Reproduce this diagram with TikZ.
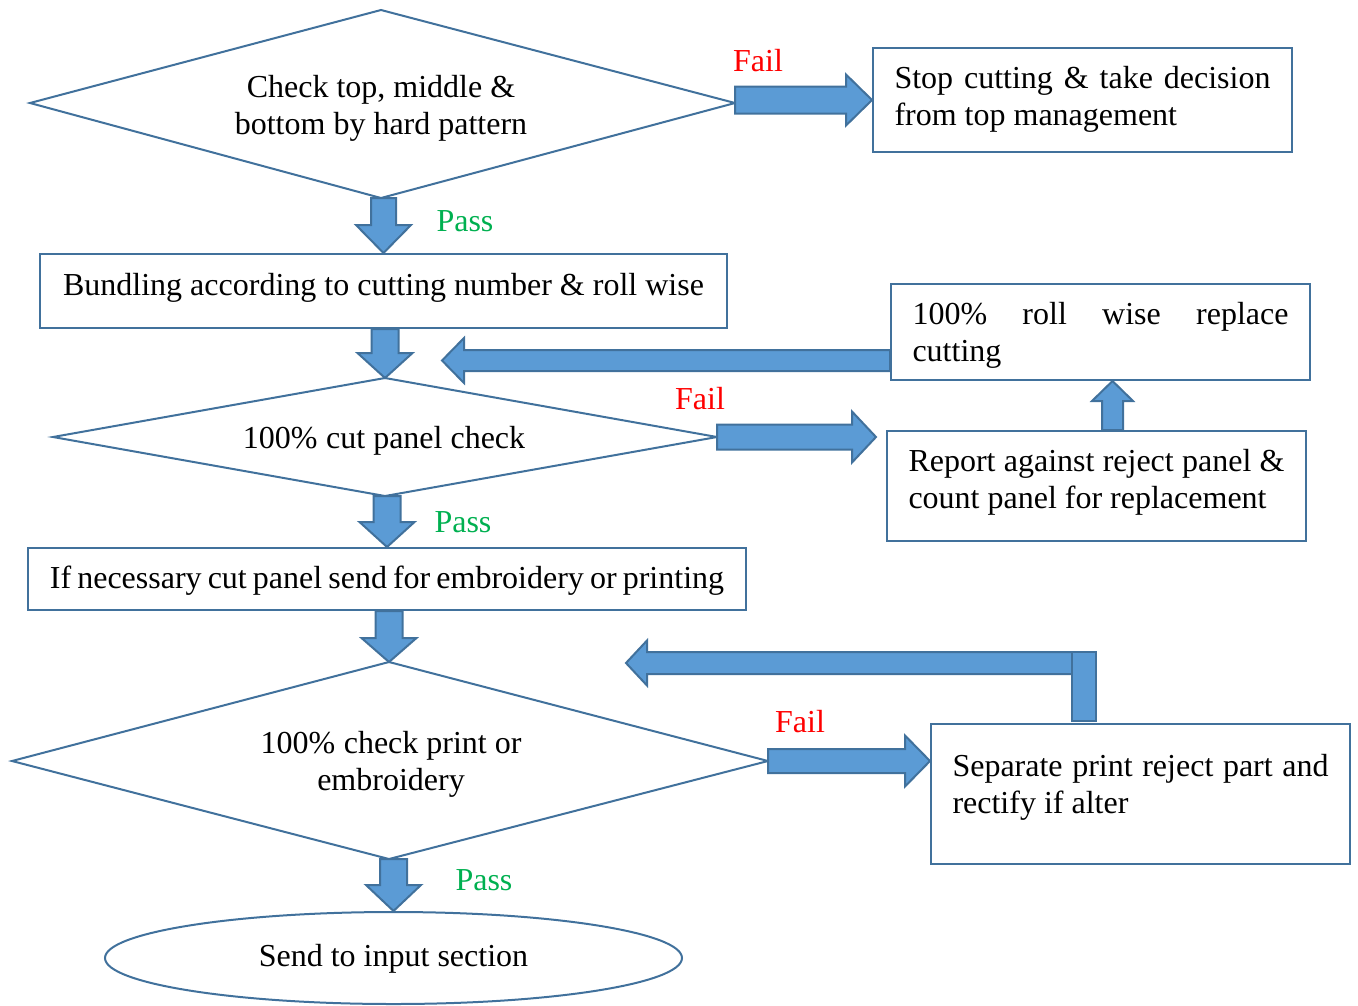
\documentclass[tikz,border=0pt]{standalone}
\usepackage{fontspec}
\setmainfont{Liberation Serif}
\usetikzlibrary{calc,shapes.geometric}

\definecolor{edgeblue}{HTML}{41719C}
\definecolor{fillblue}{HTML}{5B9BD5}
\definecolor{failred}{HTML}{FF0000}
\definecolor{passgreen}{HTML}{00B050}

\tikzset{
  txt/.style={font=\fontsize{32}{36.8}\selectfont, inner sep=0pt},
  outline/.style={draw=edgeblue, line width=2pt, line join=miter},
  blk/.style={draw=edgeblue, fill=fillblue, line width=2pt, line join=miter},
  boxnode/.style={outline, rectangle, inner sep=0pt, minimum width=419pt},
  failtxt/.style={txt, text=failred},
  passtxt/.style={txt, text=passgreen},
}

% justified paragraph, no hyphenation
\newcommand{\jpar}[1]{\parbox{376pt}{\hyphenpenalty=10000\exhyphenpenalty=10000\emergencystretch=3em #1}}

% block arrow: from, to, shaft half width, head half width, head length
\newcommand{\barrow}[5]{%
  \coordinate (ba-s) at (#1);
  \coordinate (ba-e) at (#2);
  \coordinate (ba-n) at ($(ba-e)!#5!(ba-s)$);
  \draw[blk] ($(ba-s)!#3!90:(ba-e)$) -- ($(ba-n)!#3!90:(ba-e)$)
    -- ($(ba-n)!#4!90:(ba-e)$) -- (ba-e) -- ($(ba-n)!#4!-90:(ba-e)$)
    -- ($(ba-n)!#3!-90:(ba-e)$) -- ($(ba-s)!#3!-90:(ba-e)$) -- cycle;
}

\begin{document}
\begin{tikzpicture}[x=1pt, y=-1pt, every node/.style={txt}]
\useasboundingbox (0,0) rectangle (1358,1005);

% ---- first decision
\coordinate (d1w) at (30,103);
\coordinate (d1n) at (381,10);
\coordinate (d1e) at (735,103);
\coordinate (d1s) at (381,198);
\draw[outline] (d1w) -- (d1n) -- (d1e) -- (d1s) -- cycle;
\node[align=center] (d1t) at (381,108) {Check top, middle \&\\bottom by hard pattern};

\node[boxnode, minimum height=104pt] (stop) at (1082.5,100) {};
\node (stop-t) at (1082.5,99.5) {\jpar{Stop cutting \& take decision from top management}};

% ---- bundling
\node[boxnode, minimum width=687pt, minimum height=74pt] (bund) at (383.5,291) {};
\node (bund-t) at (383.5,287.5) {Bundling according to cutting number \& roll wise};

% ---- second decision
\coordinate (d2w) at (53,437);
\coordinate (d2n) at (385,378);
\coordinate (d2e) at (717,437);
\coordinate (d2s) at (385,496);
\draw[outline] (d2w) -- (d2n) -- (d2e) -- (d2s) -- cycle;
\node (d2t) at (384,441) {100\%\hspace{0.27em}cut panel check};

\node[boxnode, minimum height=96pt] (roll) at (1100.5,332) {};
\node (roll-t) at (1100.5,335.5) {\jpar{100\% roll wise replace cutting}};

\node[boxnode, minimum height=110pt] (rep) at (1096.5,486) {};
\node (rep-t) at (1096.5,482.5) {\jpar{Report against reject panel \& count panel for replacement}};

% ---- embroidery / printing
\node[boxnode, minimum width=718pt, minimum height=62pt] (emb) at (387,579) {};
\node (emb-t) at (387,581) {\spaceskip=0.19em\relax If necessary cut panel send for embroidery or printing};

% ---- third decision
\coordinate (d3w) at (12,761);
\coordinate (d3n) at (389,662);
\coordinate (d3e) at (768,761);
\coordinate (d3s) at (389,859);
\draw[outline] (d3w) -- (d3n) -- (d3e) -- (d3s) -- cycle;
\node[align=center] (d3t) at (391,764) {100\%\hspace{0.27em}check print or\\embroidery};

\node[boxnode, minimum height=140pt] (sep) at (1140.5,794) {};
\node (sep-t) at (1140.5,787.5) {\jpar{Separate print reject part and rectify if alter}};

% ---- end
\node[ellipse, outline, minimum width=577pt, minimum height=92pt, inner sep=0pt] (input) at (393.5,958) {};
\node (input-t) at (393.5,959) {Send to input section};

% ---- connectors
\barrow{d1e |- stop.west}{stop.west}{13.5pt}{25.5pt}{26pt}
\barrow{bund.north |- d1s}{bund.north}{12.5pt}{27.5pt}{28pt}
\barrow{d2n |- bund.south}{d2n}{13.5pt}{27.5pt}{25pt}
\barrow{d2e}{$(rep.west |- d2e)+(-10,0)$}{12.5pt}{25.5pt}{24pt}

\coordinate (upfoot) at ($(rep.north)+(16,0)$);
\barrow{upfoot}{upfoot |- roll.south}{10.5pt}{20.5pt}{20pt}

\coordinate (backfoot) at ($(roll.south west)+(0,-20.5)$);
\coordinate (backtip) at ($(backfoot)+(-448,0)$);
\barrow{backfoot}{backtip}{10.5pt}{22.5pt}{22pt}

\barrow{emb.north |- d2s}{emb.north}{13.5pt}{27.5pt}{25pt}
\barrow{d3n |- emb.south}{d3n}{13.5pt}{27.5pt}{24pt}
\barrow{d3e}{d3e -| sep.west}{12pt}{25.5pt}{25pt}

\coordinate (riser) at ($(sep.north west)+(154,0)$);
\coordinate (corner) at ($(riser)+(0,-60)$);
\coordinate (retip) at ($(corner)+(-458,0)$);
\barrow{corner}{retip}{11pt}{22.5pt}{21pt}
\draw[blk] ($(riser)+(-12,-2)$) rectangle ($(riser)+(12,-71)$);

\barrow{d3s -| input.north}{input.north}{13.5pt}{27.5pt}{26pt}

% ---- outcome labels
\node[failtxt] (f1) at (758,61) {Fail};
\node[passtxt] (p1) at (465,221) {Pass};
\node[failtxt] (f2) at (700,399) {Fail};
\node[passtxt] (p2) at (463,522) {Pass};
\node[failtxt] (f3) at (800,722) {Fail};
\node[passtxt] (p3) at (484,880) {Pass};
\end{tikzpicture}
\end{document}
